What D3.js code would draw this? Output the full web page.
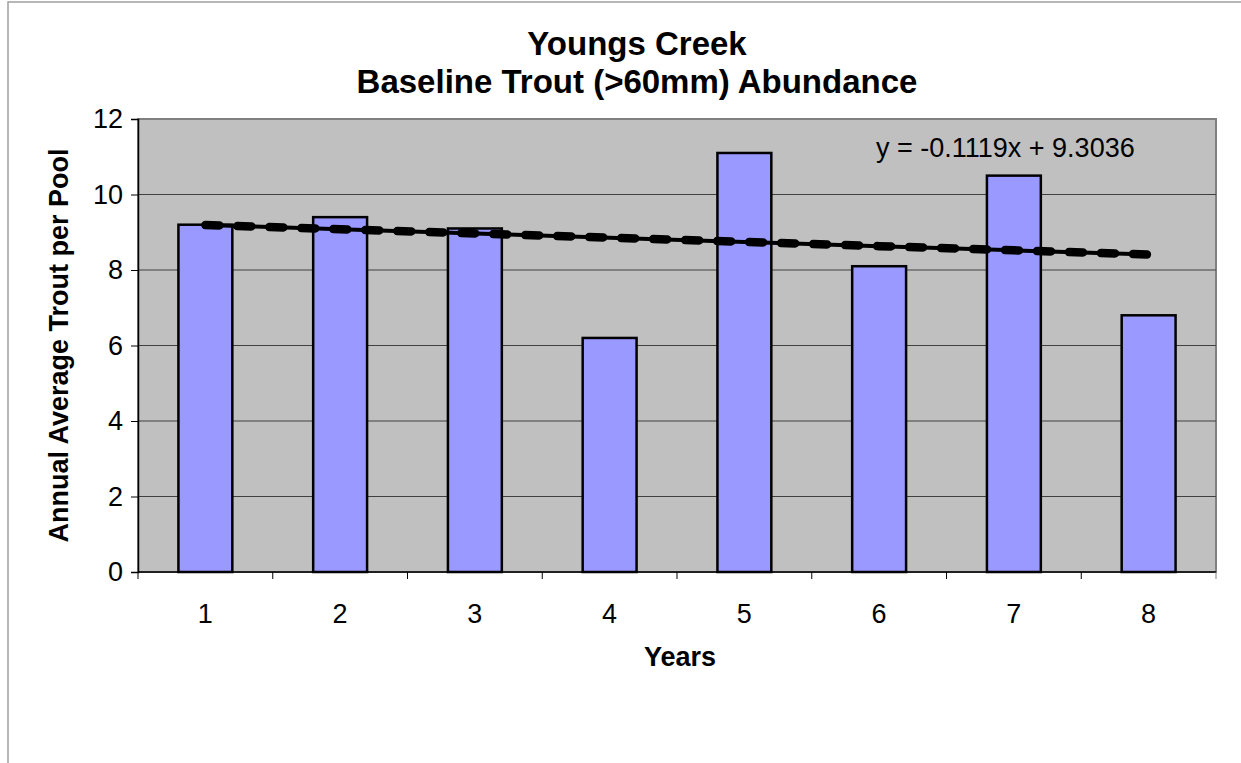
<!DOCTYPE html>
<html>
<head>
<meta charset="utf-8">
<script src="https://cdn.jsdelivr.net/npm/d3@7"></script>
<style>
  body { margin: 0; background: #fff; }
  text { font-family: "Liberation Sans", Arial, sans-serif; fill: #000; }
</style>
</head>
<body>
<div id="chart"></div>
<script>
const years = [1, 2, 3, 4, 5, 6, 7, 8];
const trout = [9.2, 9.4, 9.1, 6.2, 11.1, 8.1, 10.5, 6.8];
const yTicks = [0, 2, 4, 6, 8, 10, 12];
const slope = -0.1119;
const intercept = 9.3036;

const width = 1241;
const height = 763;
const margin = {top: 119, right: 25, bottom: 191, left: 138};

const svg = d3.select('#chart')
  .append('svg')
    .attr('width', width)
    .attr('height', height);

// outer chart border
svg.append('rect')
  .attr('x', 8).attr('y', 2)
  .attr('width', width + 20).attr('height', height + 20)
  .attr('fill', 'none')
  .attr('stroke', '#a0a0a0')
  .attr('stroke-width', 1.5);

const x = d3.scaleBand()
  .domain(years)
  .range([margin.left, width - margin.right])
  .paddingInner(0.6)
  .paddingOuter(0.3);

const xEdge = d3.scaleLinear()
  .domain([0, years.length])
  .range([margin.left, width - margin.right]);

const y = d3.scaleLinear()
  .domain([0, 12])
  .range([height - margin.bottom, margin.top]);

// plot area
svg.append('rect')
  .attr('x', margin.left)
  .attr('y', margin.top)
  .attr('width', width - margin.left - margin.right)
  .attr('height', y(0) - margin.top)
  .attr('fill', '#c0c0c0')
  .attr('stroke', '#808080')
  .attr('stroke-width', 2);

// gridlines
svg.append('g')
  .selectAll('line')
  .data(yTicks.filter(d => d > 0 && d < 12))
  .join('line')
    .attr('x1', margin.left).attr('x2', width - margin.right)
    .attr('y1', d => y(d)).attr('y2', d => y(d))
    .attr('stroke', '#404040')
    .attr('stroke-width', 1);

// bars
svg.append('g')
  .selectAll('rect')
  .data(years)
  .join('rect')
    .attr('x', d => x(d))
    .attr('y', (d, i) => y(trout[i]))
    .attr('width', x.bandwidth())
    .attr('height', (d, i) => y(0) - y(trout[i]))
    .attr('fill', '#9999ff')
    .attr('stroke', '#000')
    .attr('stroke-width', 2.5);

// y axis
const yAxis = svg.append('g')
  .attr('transform', `translate(${margin.left}, 0)`)
  .call(d3.axisLeft(y).tickValues(yTicks).tickSize(7).tickPadding(8));
yAxis.select('.domain').attr('stroke', '#000').attr('stroke-width', 1.5);
yAxis.selectAll('.tick line').attr('stroke', '#000');
yAxis.selectAll('.tick text')
  .attr('font-size', 27)
  .attr('font-family', '"Liberation Sans", Arial, sans-serif');

// x axis
svg.append('line')
  .attr('x1', margin.left).attr('x2', width - margin.right)
  .attr('y1', y(0)).attr('y2', y(0))
  .attr('stroke', '#000').attr('stroke-width', 1.5);

svg.append('g')
  .selectAll('line')
  .data(d3.range(0, years.length + 1))
  .join('line')
    .attr('x1', d => xEdge(d)).attr('x2', d => xEdge(d))
    .attr('y1', y(0)).attr('y2', y(0) + 7)
    .attr('stroke', d => d === years.length ? '#808080' : '#000')
    .attr('stroke-width', 1);

svg.append('g')
  .selectAll('text')
  .data(years)
  .join('text')
    .attr('x', d => x(d) + x.bandwidth() / 2)
    .attr('y', y(0) + 51)
    .attr('text-anchor', 'middle')
    .attr('font-size', 27)
    .text(d => d);

// trendline
const trendData = years.map(d => ({x: d, y: slope * d + intercept}));
const trendLine = d3.line()
  .x(d => x(d.x) + x.bandwidth() / 2)
  .y(d => y(d.y));

svg.append('path')
  .datum(trendData)
  .attr('d', trendLine)
  .attr('fill', 'none')
  .attr('stroke', '#000')
  .attr('stroke-width', 4);

svg.append('path')
  .datum(trendData)
  .attr('d', trendLine)
  .attr('fill', 'none')
  .attr('stroke', '#000')
  .attr('stroke-width', 8.5)
  .attr('stroke-linecap', 'round')
  .attr('stroke-dasharray', '14 18');

svg.append('text')
  .attr('x', 876)
  .attr('y', 157)
  .attr('font-size', 27)
  .text('y = -0.1119x + 9.3036');

// titles
svg.append('text')
  .attr('x', 637)
  .attr('y', 55)
  .attr('text-anchor', 'middle')
  .attr('font-size', 33)
  .attr('font-weight', 'bold')
  .text('Youngs Creek');

svg.append('text')
  .attr('x', 637)
  .attr('y', 93)
  .attr('text-anchor', 'middle')
  .attr('font-size', 33)
  .attr('font-weight', 'bold')
  .text('Baseline Trout (>60mm) Abundance');

svg.append('text')
  .attr('x', 680)
  .attr('y', 666)
  .attr('text-anchor', 'middle')
  .attr('font-size', 27)
  .attr('font-weight', 'bold')
  .text('Years');

svg.append('text')
  .attr('transform', `translate(68, ${(margin.top + y(0)) / 2}) rotate(-90)`)
  .attr('text-anchor', 'middle')
  .attr('font-size', 27)
  .attr('font-weight', 'bold')
  .text('Annual Average Trout per Pool');
</script>
</body>
</html>
